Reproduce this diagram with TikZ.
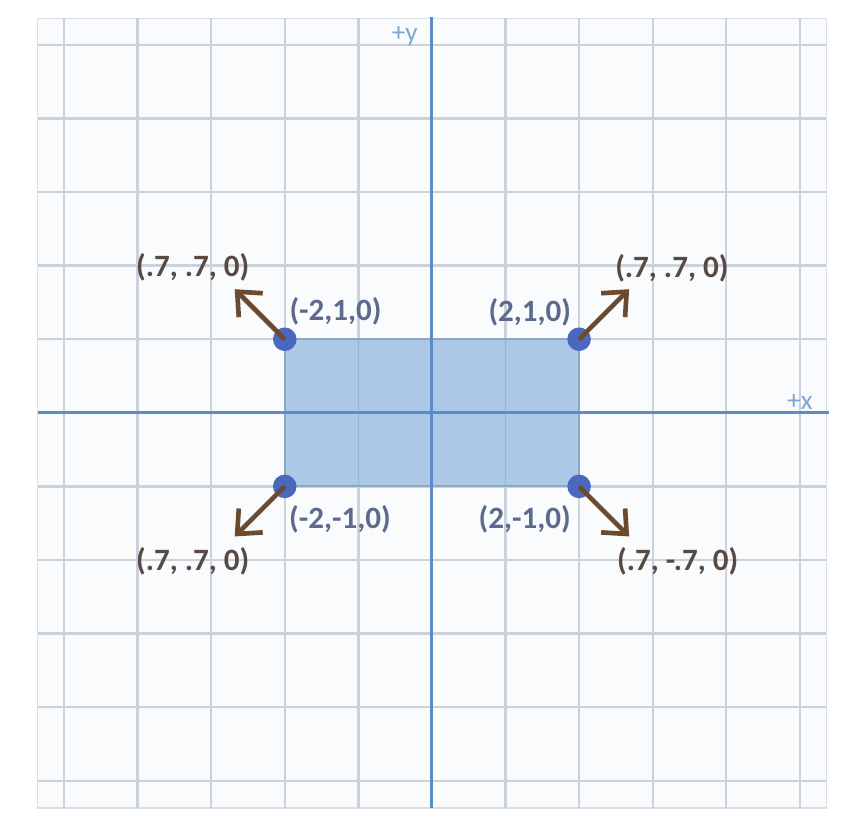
\documentclass[tikz,border=0pt]{standalone}
\usepackage{fontspec}
\setmainfont{Carlito}
\usetikzlibrary{arrows.meta}
\definecolor{gridc}{HTML}{CAD2DD}
\definecolor{gridbg}{HTML}{FAFBFD}
\definecolor{axisc}{HTML}{5D8CC4}
\definecolor{rectc}{HTML}{A9C8E6}
\definecolor{dotc}{HTML}{4A68BE}
\definecolor{arrc}{HTML}{6B4A2E}
\definecolor{ptlab}{HTML}{5C6A8C}
\definecolor{veclab}{HTML}{574A42}
\definecolor{axlab}{HTML}{7FA6D2}
\tikzset{
  gridline/.style={gridc, line width=0.9pt},
  axisline/.style={axisc, line width=1.2pt},
  vertex/.style={circle, fill=dotc, inner sep=0pt, minimum size=0.32cm},
  normalarrow/.style={arrc, line width=1.8pt, -{Straight Barb[length=2.6mm,width=4.6mm,line width=1.8pt]}},
  ptlabel/.style={ptlab, font=\fontsize{12}{14}\selectfont\bfseries, inner sep=0pt},
  veclabel/.style={veclab, font=\fontsize{12}{14}\selectfont\bfseries, inner sep=0pt},
  axlabel/.style={axlab, font=\fontsize{10.5}{12}\selectfont, inner sep=0pt}
}
\begin{document}
\begin{tikzpicture}
\useasboundingbox[fill=white] (-5.87,-5.75) rectangle (5.79,5.61);
\fill[gridbg] (-5.36,-5.37) rectangle (5.36,5.36);
\draw[gridc!70, line width=0.6pt] (-5.36,-5.37) rectangle (5.36,5.36);
\foreach \i in {-5,...,5}{
  \draw[gridline] (\i,-5.37) -- (\i,5.36);
  \draw[gridline] (-5.36,\i) -- (5.36,\i);
}
\fill[rectc, opacity=0.97] (-2,-1) rectangle (2,1);
\foreach \i in {-1,1}{
  \draw[axisc!70!gray, line width=0.8pt, opacity=0.55] (-2,\i) -- (2,\i);
}
\foreach \i in {-2,2}{
  \draw[axisc!70!gray, line width=0.8pt, opacity=0.55] (\i,-1) -- (\i,1);
}
\foreach \i in {-1,1}{
  \draw[axisc!70!gray, line width=0.6pt, opacity=0.3] (\i,-1) -- (\i,1);
}
\draw[axisline] (-5.36,0) -- (5.4,0);
\draw[axisline] (0,-5.37) -- (0,5.38);
\node[axlabel] (ylab) at (-0.37,5.12) {+y};
\node[axlabel] (xlab) at (5.0,0.15) {+x};

\node[vertex] (a) at (-2,1) {};
\node[vertex] (b) at (2,1) {};
\node[vertex] (c) at (-2,-1) {};
\node[vertex] (d) at (2,-1) {};

\coordinate (na) at (-2.68,1.68);
\coordinate (nb) at (2.68,1.68);
\coordinate (nc) at (-2.68,-1.68);
\coordinate (nd) at (2.68,-1.68);
\draw[normalarrow] (a.center) -- (na);
\draw[normalarrow] (b.center) -- (nb);
\draw[normalarrow] (c.center) -- (nc);
\draw[normalarrow] (d.center) -- (nd);

\node[ptlabel] (la) at (-1.31,1.375) {(-2,1,0)};
\node[ptlabel] (lb) at (1.33,1.37) {(2,1,0)};
\node[ptlabel] (lc) at (-1.25,-1.45) {(-2,-1,0)};
\node[ptlabel] (ld) at (1.26,-1.45) {(2,-1,0)};

\node[veclabel] (va) at (-3.25,1.98) {(.7, .7, 0)};
\node[veclabel] (vb) at (3.26,1.97) {(.7, .7, 0)};
\node[veclabel] (vc) at (-3.25,-2.02) {(.7, .7, 0)};
\node[veclabel] (vd) at (3.34,-2.02) {(.7, -.7, 0)};
\end{tikzpicture}
\end{document}
